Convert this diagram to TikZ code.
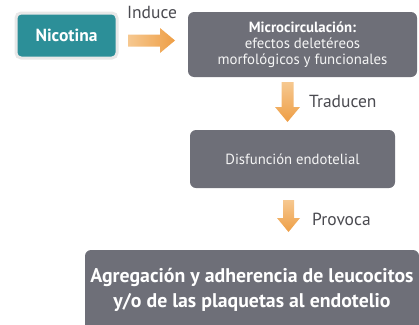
\documentclass[tikz,border=0pt]{standalone}
\usepackage{fontspec}
\setmainfont{PT Sans}
\definecolor{teal1}{HTML}{2C8F98}
\definecolor{boxgray}{HTML}{6E6F78}
\definecolor{arrorange}{HTML}{EE9E45}
\definecolor{arrlight}{HTML}{F6C890}
\definecolor{labgray}{HTML}{4A4A50}
\tikzset{
  graybox/.style={fill=boxgray, rounded corners=6pt, inner sep=0pt, text=white, align=center},
  lab/.style={text=labgray, font=\fontsize{17.5}{20}\selectfont, inner sep=0pt},
  arrR/.style={left color=arrlight, right color=arrorange, draw=none},
  arrD/.style={top color=arrlight, bottom color=arrorange, draw=none}
}
\begin{document}
\begin{tikzpicture}[x=1pt,y=-1pt]
\useasboundingbox (0,0) rectangle (419,324);
% Nicotina
\node[fill=teal1, draw=gray!18, line width=3pt, rounded corners=5pt, minimum width=101pt, minimum height=45pt,
      text=white, font=\bfseries\fontsize{17.5}{20}\selectfont] (nic) at (66.5,35.5) {Nicotina};
% Microcirculacion
\node[graybox, minimum width=229pt, minimum height=65pt, font=\fontsize{14.8}{16}\selectfont] (mic) at (302.5,44.5)
  {\textbf{Microcirculación:}\\ \color{white!92!gray}efectos deletéreos\\ \color{white!92!gray}morfológicos y funcionales};
% Disfuncion
\node[graybox, minimum width=205pt, minimum height=58pt, font=\fontsize{14.7}{16}\selectfont, text=white!92!gray] (dis) at (292.5,159)
  {Disfunción endotelial};
% Bottom
\node[graybox, minimum width=334pt, minimum height=80pt, font=\bfseries\fontsize{19.8}{25.5}\selectfont] (agr) at (252,290)
  {Agregación y adherencia de leucocitos\\ y/o de las plaquetas al endotelio};
% arrows (block arrows between boxes)
\coordinate (a1) at (128,40.5);
\coordinate (a2) at (287.5,82);
\coordinate (a3) at (288.5,200);
\path[arrR] (a1) ++(0,-6) -- ++(32,0) -- ++(0,-6.5) -- ++(15,12.5) -- ++(-15,12.5) -- ++(0,-6.5) -- ++(-32,0) -- cycle;
\path[arrD] (a2) ++(-6,0) -- ++(0,25) -- ++(-6.5,0) -- ++(12.5,15) -- ++(12.5,-15) -- ++(-6.5,0) -- ++(0,-25) -- cycle;
\path[arrD] (a3) ++(-5.5,0) -- ++(0,18) -- ++(-6,0) -- ++(11.5,14) -- ++(11.5,-14) -- ++(-6,0) -- ++(0,-18) -- cycle;
% labels
\node[lab] (l1) at (152,12) {Induce};
\node[lab, anchor=west] (l2) at (309,101) {Traducen};
\node[lab, anchor=west] (l3) at (312,219) {Provoca};
\end{tikzpicture}
\end{document}
